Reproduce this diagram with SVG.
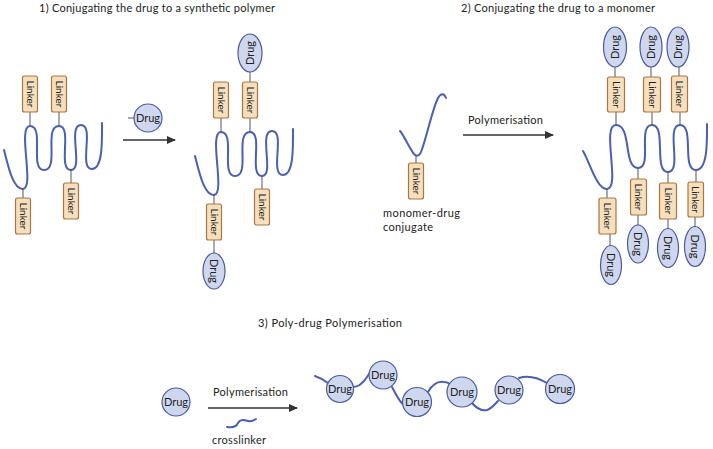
<svg xmlns="http://www.w3.org/2000/svg" width="713" height="449" viewBox="0 0 713 449">
<defs>
<style>
text{font-family:Lato,"Open Sans","Liberation Sans",sans-serif;fill:#222}
.title{font-size:11px}
.lbl{font-size:11px}
.lk{fill:#f6dfbd;stroke:#a9763f;stroke-width:1.2}
.lkt{font-size:10px;text-anchor:middle}
.dr{fill:#cfd7ef;stroke:#4a5a9c;stroke-width:1.2}
.drt{font-size:11px;text-anchor:middle}
.wave{fill:none;stroke:#4b5fb0;stroke-width:2;stroke-linecap:round}
.tie{stroke:#555;stroke-width:1;fill:none}
.arrow{stroke:#333;stroke-width:1.6;fill:none}
</style>
<marker id="ah" markerWidth="9" markerHeight="8" refX="8" refY="4" orient="auto" markerUnits="userSpaceOnUse">
<path d="M0,0 L9,4 L0,8 Z" fill="#333"/>
</marker>
</defs>
<rect width="713" height="449" fill="#fff"/>

<!-- titles -->
<text class="title" x="39" y="12" textLength="236">1) Conjugating the drug to a synthetic polymer</text>
<text class="title" x="461" y="12" textLength="194">2) Conjugating the drug to a monomer</text>
<text class="title" x="258" y="327" textLength="144">3)  Poly-drug Polymerisation</text>

<!-- Section 1: polymer -->
<g id="polymer1">
<path class="wave" d="M4,150 C8,165 13,190 23,189 C35,188 17,126 30,126 C45,126 29,170 44,170 C60,170 43,126 59,126 C73,126 57,170 71,170 C84,170 67,125 81,125 C95,125 78,169 92,169 C103,169 102,140 102,123"/>
<path class="tie" d="M30,112V126 M59,112V126 M23,189V198 M71,170V183"/>
<rect class="lk" x="22.5" y="76" width="15" height="36" rx="2"/>
<text class="lkt" transform="translate(30,94) rotate(90)" dy="3.5">Linker</text>
<rect class="lk" x="51.5" y="76" width="15" height="36" rx="2"/>
<text class="lkt" transform="translate(59,94) rotate(90)" dy="3.5">Linker</text>
<rect class="lk" x="15.5" y="198" width="15" height="36" rx="2"/>
<text class="lkt" transform="translate(23,216) rotate(90)" dy="3.5">Linker</text>
<rect class="lk" x="63.5" y="183" width="15" height="36" rx="2"/>
<text class="lkt" transform="translate(71,201) rotate(90)" dy="3.5">Linker</text>
</g>

<g id="drug1">
<path class="tie" d="M128,118H134"/>
<circle class="dr" cx="148" cy="118" r="14"/>
<text class="drt" x="148" y="122">Drug</text>
</g>

<!-- Section 1: conjugated polymer -->
<g id="polymer1-conj">
<path class="wave" transform="translate(191,6)" d="M4,150 C8,165 13,190 23,189 C35,188 17,126 30,126 C45,126 29,170 44,170 C60,170 43,126 59,126 C73,126 57,170 71,170 C84,170 67,125 81,125 C95,125 78,169 92,169 C103,169 102,140 102,123"/>
<path class="tie" d="M221,118V132 M250,118V132 M214,195V204 M262,176V189 M250,72V82 M214,240V253"/>
<rect class="lk" x="213.5" y="82" width="15" height="36" rx="2"/>
<text class="lkt" transform="translate(221,100) rotate(90)" dy="3.5">Linker</text>
<rect class="lk" x="242.5" y="82" width="15" height="36" rx="2"/>
<text class="lkt" transform="translate(250,100) rotate(90)" dy="3.5">Linker</text>
<rect class="lk" x="206.5" y="204" width="15" height="36" rx="2"/>
<text class="lkt" transform="translate(214,222) rotate(90)" dy="3.5">Linker</text>
<rect class="lk" x="254.5" y="189" width="15" height="36" rx="2"/>
<text class="lkt" transform="translate(262,207) rotate(90)" dy="3.5">Linker</text>
<ellipse class="dr" cx="250" cy="53" rx="12" ry="19"/>
<text class="drt" transform="translate(250,53) rotate(-90)" dy="3.7">Drug</text>
<ellipse class="dr" cx="214" cy="271" rx="11" ry="18"/>
<text class="drt" transform="translate(214,271) rotate(90)" dy="3.7">Drug</text>
</g>

<!-- Section 2: monomer -->
<g id="monomer">
<path class="wave" d="M400,131 C403,134 408,145 412,151 C415,157 419,157 421,152 C426,140 432,110 438,98 C441,93 444,93 446,98"/>
<path class="tie" d="M416,155V163"/>
<rect class="lk" x="408.5" y="163" width="15" height="36" rx="2"/>
<text class="lkt" transform="translate(416,181) rotate(90)" dy="3.5">Linker</text>
<text class="lbl" x="383" y="217" textLength="77">monomer-drug</text>
<text class="lbl" x="383" y="231" textLength="50">conjugate</text>
</g>

<!-- Section 2: polymer -->
<g id="polymer2">
<path class="wave" d="M583,151 C590,163 597,190 607,189 C621,188 601,125 616,125 C632,125 623,168 638,168 C653,168 637,125 652,125 C667,125 653,172 668,172 C683,172 665,125 680,125 C695,125 681,170 696,170 C708,170 707,140 707,124"/>
<path class="tie" d="M616,112V125 M652,112V125 M680,112V125 M615,67V77 M651,67V77 M679,67V77 M607,189V198 M638,168V179 M668,172V183 M696,170V182 M610,234V246 M638,215V225 M668,219V229 M695,217V227"/>
<ellipse class="dr" cx="615" cy="47" rx="11.5" ry="20"/>
<text class="drt" transform="translate(615,47) rotate(-90)" dy="3.7">Drug</text>
<ellipse class="dr" cx="651" cy="47" rx="11" ry="20"/>
<text class="drt" transform="translate(651,47) rotate(-90)" dy="3.7">Drug</text>
<ellipse class="dr" cx="678" cy="47" rx="11" ry="20"/>
<text class="drt" transform="translate(678,47) rotate(-90)" dy="3.7">Drug</text>
<rect class="lk" x="607.5" y="77" width="17" height="35" rx="2"/>
<text class="lkt" transform="translate(616,94.5) rotate(90)" dy="3.5">Linker</text>
<rect class="lk" x="643.5" y="77" width="17" height="35" rx="2"/>
<text class="lkt" transform="translate(652,94.5) rotate(90)" dy="3.5">Linker</text>
<rect class="lk" x="671.5" y="76" width="16" height="36" rx="2"/>
<text class="lkt" transform="translate(679.5,94) rotate(90)" dy="3.5">Linker</text>
<rect class="lk" x="599" y="198" width="17" height="36" rx="2"/>
<text class="lkt" transform="translate(607.5,216) rotate(90)" dy="3.5">Linker</text>
<rect class="lk" x="630.5" y="179" width="16" height="36" rx="2"/>
<text class="lkt" transform="translate(638.5,197) rotate(90)" dy="3.5">Linker</text>
<rect class="lk" x="659.5" y="183" width="17" height="36" rx="2"/>
<text class="lkt" transform="translate(668,201) rotate(90)" dy="3.5">Linker</text>
<rect class="lk" x="688" y="182" width="15.5" height="35" rx="2"/>
<text class="lkt" transform="translate(695.7,199.5) rotate(90)" dy="3.5">Linker</text>
<ellipse class="dr" cx="611" cy="265" rx="10.5" ry="19.5"/>
<text class="drt" transform="translate(611,265) rotate(90)" dy="3.7">Drug</text>
<ellipse class="dr" cx="638" cy="244" rx="10.5" ry="19"/>
<text class="drt" transform="translate(638,244) rotate(90)" dy="3.7">Drug</text>
<ellipse class="dr" cx="668" cy="248" rx="10.5" ry="19.5"/>
<text class="drt" transform="translate(668,248) rotate(90)" dy="3.7">Drug</text>
<ellipse class="dr" cx="695" cy="246.5" rx="10.5" ry="20"/>
<text class="drt" transform="translate(695,246.5) rotate(90)" dy="3.7">Drug</text>
</g>

<!-- Section 3 -->
<g id="drug3">
<circle class="dr" cx="176" cy="402" r="14"/>
<text class="drt" x="176" y="406">Drug</text>
</g>
<g id="crosslinker">
<path class="wave" d="M227,427 C232,428 236,427 238,423 C240,419 244,420 248,421 C251,422 253,421 256,419"/>
<text class="lbl" x="212" y="444" textLength="54">crosslinker</text>
</g>

<g id="chain">
<path class="wave" d="M315,376 Q321,378 328,383 M352,387 C358,387 360,385 364,381 C368,376 370,372 373,368 M392,387 C396,394 399,402 405,406 M428,392 C432,385 438,381 444,382 C447,382 449,383 450,385 M472,403 C477,409 482,411 487,410 C491,409 494,405 498,401 M519,378 C525,376 535,376 547,383"/>
<circle class="dr" cx="340" cy="389" r="13.5"/>
<text class="drt" x="340" y="393">Drug</text>
<circle class="dr" cx="383" cy="375" r="14"/>
<text class="drt" x="383" y="379">Drug</text>
<circle class="dr" cx="417" cy="402" r="14.5"/>
<text class="drt" x="417" y="406">Drug</text>
<circle class="dr" cx="462" cy="392" r="15"/>
<text class="drt" x="462" y="396">Drug</text>
<circle class="dr" cx="509" cy="390" r="14"/>
<text class="drt" x="509" y="394">Drug</text>
<circle class="dr" cx="560" cy="389" r="14.5"/>
<text class="drt" x="560" y="393">Drug</text>
</g>

<!-- connectors -->
<g id="connectors">
<line class="arrow" x1="123" y1="140" x2="175" y2="140" marker-end="url(#ah)"/>
<line class="arrow" x1="463" y1="135" x2="553" y2="135" marker-end="url(#ah)"/>
<line class="arrow" x1="208" y1="408" x2="297" y2="408" marker-end="url(#ah)"/>
<text class="lbl" x="468" y="124" textLength="75">Polymerisation</text>
<text class="lbl" x="213" y="396" textLength="75">Polymerisation</text>
</g>
</svg>
